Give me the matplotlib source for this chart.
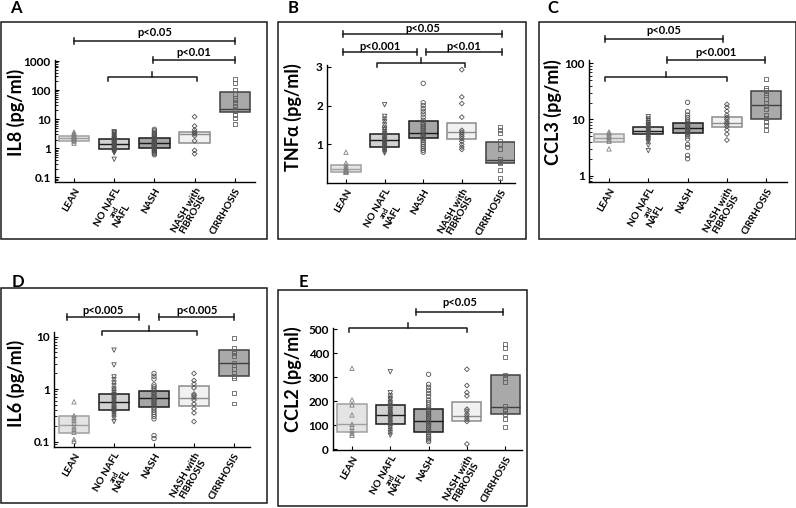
import numpy as np
import matplotlib
matplotlib.use("Agg")
import matplotlib.pyplot as plt
from matplotlib.patches import Rectangle
from matplotlib.transforms import Affine2D, blended_transform_factory
from matplotlib.ticker import LogLocator, NullFormatter, FixedLocator, FuncFormatter

plt.rcParams["font.family"] = ["Lato", "DejaVu Sans"]
plt.rcParams["font.weight"] = "bold"

W, H = 796, 508

# ── Data ────────────────────────────────────────────────────────────────────
GROUPS = ["LEAN", "NO NAFL\n\nNAFL", "NASH", "NASH with\nFIBROSIS", "CIRRHOSIS"]

# each box: (q1, median, q3)
il8_boxes = [(1.8, 2.3, 2.7), (0.92, 1.44, 2.04), (1.0, 1.5, 2.2), (1.49, 3.1, 3.72), (17.3, 23, 84)]
il8_points = [
    [3.6, 3.2, 2.9, 2.7, 2.5, 2.4, 2.3, 2.2, 2.0, 1.9, 1.7, 1.5],
    [3.7, 3.5, 3.3, 3.0, 2.8, 2.6, 2.4, 2.2, 2.1, 2.0, 1.9, 1.8, 1.7, 1.6, 1.5, 1.45, 1.4, 1.3,
     1.25, 1.2, 1.1, 1.05, 1.0, 0.95, 0.9, 0.85, 0.8, 0.75, 0.7, 0.42],
    [4.5, 4.0, 3.6, 3.3, 3.0, 2.8, 2.6, 2.4, 2.2, 2.1, 2.0, 1.9, 1.8, 1.7, 1.6, 1.55, 1.5, 1.45,
     1.4, 1.35, 1.3, 1.25, 1.2, 1.15, 1.1, 1.05, 1.0, 0.95, 0.9, 0.85, 0.8, 0.75, 0.7, 0.65, 0.6],
    [12.2, 5.8, 4.3, 3.6, 3.2, 2.7, 1.8, 0.85, 0.65],
    [240, 170, 100, 75, 55, 45, 35, 28, 23, 21, 19, 14, 11, 7],
]

tnf_boxes = [(0.30, 0.37, 0.47), (0.94, 1.11, 1.26), (1.16, 1.30, 1.61), (1.14, 1.31, 1.54), (0.51, 0.60, 1.07)]
tnf_points = [
    [0.80, 0.52, 0.45, 0.40, 0.37, 0.35, 0.33, 0.31, 0.29, 0.28],
    [2.02, 1.72, 1.65, 1.58, 1.50, 1.42, 1.38, 1.33, 1.28, 1.24, 1.20, 1.16, 1.12, 1.09, 1.05,
     1.02, 0.99, 0.96, 0.93, 0.90, 0.86, 0.82, 0.78],
    [2.57, 2.07, 2.0, 1.92, 1.85, 1.78, 1.70, 1.62, 1.55, 1.50, 1.45, 1.40, 1.35, 1.30, 1.26,
     1.22, 1.18, 1.14, 1.10, 1.05, 1.0, 0.95, 0.90, 0.85, 0.80],
    [2.92, 2.22, 2.05, 1.70, 1.36, 1.31, 1.26, 1.21, 1.15, 1.08, 1.0, 0.93, 0.87],
    [1.44, 1.38, 1.30, 1.10, 1.00, 0.88, 0.62, 0.58, 0.55, 0.52, 0.35, 0.13],
]

ccl3_boxes = [(3.93, 4.63, 5.45), (5.45, 6.3, 7.45), (5.8, 7.0, 8.6), (7.45, 8.8, 11.2), (10.1, 18.1, 32.2)]
ccl3_points = [
    [6.0, 5.6, 5.2, 4.8, 4.4, 4.1, 3.0],
    [11.2, 10.2, 9.5, 8.8, 8.2, 7.8, 7.4, 7.0, 6.7, 6.4, 6.1, 5.8, 5.5, 5.2, 4.9, 4.6, 4.3, 4.0, 3.5, 2.8],
    [20.2, 13.8, 12.0, 10.8, 9.8, 9.0, 8.5, 8.0, 7.6, 7.2, 6.9, 6.6, 6.3, 6.0, 5.7, 5.4, 5.0,
     4.5, 3.6, 3.2, 2.3, 2.0],
    [18.6, 16.5, 14.0, 12.0, 10.8, 10.0, 9.0, 8.3, 7.5, 6.5, 5.5, 4.3],
    [52, 36, 33, 30, 27, 23, 20, 17.5, 15.5, 12, 10.5, 9, 8, 6.5],
]

il6_boxes = [(0.143, 0.205, 0.30), (0.39, 0.56, 0.79), (0.46, 0.67, 0.92), (0.48, 0.68, 1.14), (1.8, 3.1, 5.6)]
il6_points = [
    [0.57, 0.31, 0.28, 0.25, 0.22, 0.19, 0.17, 0.15, 0.11, 0.10],
    [5.5, 2.87, 1.7, 1.5, 1.3, 1.15, 1.0, 0.92, 0.85, 0.78, 0.72, 0.68, 0.64, 0.60, 0.56, 0.52,
     0.48, 0.45, 0.43, 0.41, 0.39, 0.37, 0.34, 0.31, 0.28, 0.24],
    [1.98, 1.75, 1.55, 1.2, 1.1, 1.0, 0.92, 0.85, 0.78, 0.72, 0.68, 0.64, 0.60, 0.56, 0.52, 0.48,
     0.44, 0.40, 0.36, 0.33, 0.30, 0.27, 0.13, 0.114],
    [1.98, 1.45, 1.25, 1.05, 0.80, 0.75, 0.70, 0.62, 0.52, 0.42, 0.35, 0.24],
    [9.4, 6.0, 5.4, 4.8, 4.2, 3.2, 2.8, 2.4, 2.0, 1.8, 1.6, 0.83, 0.53],
]

ccl2_boxes = [(71, 104, 188), (104, 142, 182), (73, 117, 166), (118, 139, 195), (146, 174, 308)]
ccl2_points = [
    [337, 205, 184, 142, 103, 90, 75, 65, 57],
    [323, 235, 222, 212, 205, 195, 188, 180, 172, 165, 158, 150, 145, 140, 135, 128, 120, 112,
     105, 95, 88, 78, 68, 58],
    [312, 270, 258, 245, 232, 220, 205, 195, 185, 175, 165, 158, 150, 142, 135, 128, 120, 112,
     105, 98, 90, 82, 75, 68, 60, 52, 45, 38, 31],
    [333, 265, 236, 222, 166, 158, 145, 135, 125, 115, 21],
    [438, 421, 383, 309, 295, 281, 179, 168, 160, 148, 125, 93],
]

# ── Styling per group ───────────────────────────────────────────────────────
MARKERS = ["^", "v", "o", "D", "s"]
MSIZE = [10, 10, 10, 6, 8]
BOX_FACE = ["#e4e4e4", "#d2d2d2", "#a6a6a6", "#f1f1f1", "#a9a9a9"]
BOX_EDGE = ["#a0a0a0", "#1a1a1a", "#1a1a1a", "#8c8c8c", "#404040"]
PT_EDGE = ["#808080", "#505050", "#505050", "#505050", "#606060"]
BOX_W = 0.76

# ── Layout (figure pixels, measured from top-left) ──────────────────────────
PANELS = [
    dict(letter="A", letter_xy=(16, 8), frame=(0.5, 22, 267, 239),
         rect=(55, 60, 255, 182), c0=74, sp=40.2,
         log=True, yref=(1, 148.3, 29.1), yticks=[0.1, 1, 10, 100, 1000],
         ylabel="IL8 (pg/ml)", ylabel_xy=(16, 112),
         bars=[(0, 4, 41, 32, "p<0.05"), (1.97, 4, 60, 52, "p<0.01")],
         curly=(0.85, 3.06, 1.94, 77)),
    dict(letter="B", letter_xy=(293, 8), frame=(278, 22, 526, 239),
         rect=(327, 65, 515, 183), c0=346, sp=38.6,
         log=False, yref=(0, 183.3, 38.9), yticks=[0, 1, 2, 3],
         ylabel="TNF\u03b1 (pg/ml)", ylabel_xy=(293, 117),
         bars=[(-0.08, 4.04, 34, 28, "p<0.05"), (-0.08, 1.84, 52, 46, "p<0.001"),
               (2.07, 4.04, 52, 46, "p<0.01")],
         curly=(0.8, 3.08, 1.94, 63)),
    dict(letter="C", letter_xy=(553, 8), frame=(539, 22, 795.5, 239),
         rect=(589, 60, 787, 182), c0=609, sp=39.3,
         log=True, yref=(1, 175.7, 56.2), yticks=[1, 10, 100],
         ylabel="CCL3 (pg/ml)", ylabel_xy=(553, 112),
         bars=[(-0.1, 2.9, 39, 30, "p<0.05"), (1.48, 3.97, 60, 52, "p<0.001")],
         curly=(-0.1, 3.0, 1.45, 77)),
    dict(letter="D", letter_xy=(18, 282), frame=(0.5, 288, 267, 503),
         rect=(54, 332, 250, 447), c0=74, sp=40,
         log=True, yref=(1, 389, 52.5), yticks=[0.1, 1, 10],
         ylabel="IL6 (pg/ml)", ylabel_xy=(16, 383),
         bars=[(-0.18, 1.63, 317, 310, "p<0.005"), (2.13, 4.0, 317, 310, "p<0.005")],
         curly=(0.7, 3.08, 1.88, 331)),
    dict(letter="E", letter_xy=(303, 282), frame=(278, 290, 527, 506),
         rect=(333, 328, 522, 450), c0=352, sp=38.3,
         log=False, yref=(0, 449, 0.2394), yticks=[0, 100, 200, 300, 400, 500],
         ylabel="CCL2 (pg/ml)", ylabel_xy=(293, 379),
         bars=[(1.67, 3.94, 312, 303, "p<0.05")],
         curly=(-0.08, 3.0, 1.46, 328)),
]
DATA = [(il8_boxes, il8_points), (tnf_boxes, tnf_points), (ccl3_boxes, ccl3_points),
        (il6_boxes, il6_points), (ccl2_boxes, ccl2_points)]


def px_rect(l, t, r, b):
    return [l / W, 1 - b / H, (r - l) / W, (b - t) / H]


def draw_panel(fig, spec, boxes, points, pxT):
    l, t, r, b = spec["rect"]
    ax = fig.add_axes(px_rect(l, t, r, b))
    ax.patch.set_alpha(0)
    c0, sp = spec["c0"], spec["sp"]
    ax.set_xlim((l - c0) / sp, (r - c0) / sp)
    v0, y0, k = spec["yref"]
    if spec["log"]:
        ax.set_yscale("log")
        ax.set_ylim(v0 * 10 ** ((y0 - b) / k), v0 * 10 ** ((y0 - t) / k))
        ax.yaxis.set_minor_locator(LogLocator(base=10, subs=np.arange(2, 10)))
        ax.yaxis.set_minor_formatter(NullFormatter())
    else:
        ax.set_ylim((y0 - b) / k, (y0 - t) / k)
    ax.yaxis.set_major_locator(FixedLocator(spec["yticks"]))
    ax.yaxis.set_major_formatter(FuncFormatter(lambda v, _: f"{v:g}"))

    for i, ((q1, med, q3), pts) in enumerate(zip(boxes, points)):
        ax.add_patch(Rectangle((i - BOX_W / 2, q1), BOX_W, q3 - q1,
                               facecolor=BOX_FACE[i], edgecolor=BOX_EDGE[i],
                               lw=1.1, zorder=2))
        ax.hlines(med, i - BOX_W / 2, i + BOX_W / 2, color=BOX_EDGE[i], lw=1.0, zorder=2.5)
        ax.scatter(np.full(len(pts), i), pts, marker=MARKERS[i], s=MSIZE[i],
                   facecolors="none", edgecolors=PT_EDGE[i], linewidths=0.6, zorder=3)

    for s in ("top", "right"):
        ax.spines[s].set_visible(False)
    for s in ("left", "bottom"):
        ax.spines[s].set_linewidth(1.0)
    ax.set_xticks(range(len(GROUPS)))
    ax.set_xticklabels(GROUPS, rotation=60, ha="right", va="top", rotation_mode="anchor",
                       multialignment="center", fontsize=7.2, fontweight="bold",
                       linespacing=0.9)
    ax.tick_params(axis="x", direction="in", length=3, width=0.8, pad=3)
    ax.tick_params(axis="y", which="major", direction="in", length=3, width=0.8,
                   labelsize=8.5, pad=3)
    ax.tick_params(axis="y", which="minor", direction="in", length=1.8, width=0.6)
    for lab in ax.get_yticklabels():
        lab.set_fontweight("bold")

    cx, cy = spec["ylabel_xy"]
    ax.set_ylabel(spec["ylabel"], fontsize=13, fontweight="bold")
    ax.yaxis.set_label_coords((cx - l) / (r - l), (b - cy) / (b - t))
    ax.yaxis.label.set_verticalalignment("center")

    # significance bars (x in category units, y in figure pixels)
    tr = blended_transform_factory(ax.transData, pxT)
    for x0, x1, ly, ty, txt in spec["bars"]:
        ax.plot([x0, x1], [ly, ly], color="#1a1a1a", lw=1.1, transform=tr, clip_on=False)
        for xe in (x0, x1):
            ax.plot([xe, xe], [ly - 3, ly + 3], color="#1a1a1a", lw=1.1,
                    transform=tr, clip_on=False)
        ax.text((x0 + x1) / 2, ty, txt, ha="center", va="center", fontsize=8,
                fontweight="bold", transform=tr, clip_on=False)
    x0, x1, xm, cyl = spec["curly"]
    ax.plot([x0, x0, x1, x1], [cyl + 4, cyl, cyl, cyl + 4], color="#1a1a1a", lw=1.1,
            transform=tr, clip_on=False)
    ax.plot([xm, xm], [cyl, cyl - 5], color="#1a1a1a", lw=1.1, transform=tr, clip_on=False)

    # panel frame and letter
    fl, ft, fr, fb = spec["frame"]
    fig.patches.append(Rectangle((fl, ft), fr - fl, fb - ft, transform=pxT,
                                 fill=False, edgecolor="#1a1a1a", lw=1.1))
    lx, ly = spec["letter_xy"]
    fig.text(lx, ly, spec["letter"], transform=pxT, ha="center", va="center",
             fontsize=12, fontweight="bold")
    return ax


fig = plt.figure(figsize=(W / 100, H / 100), dpi=100)
fig.patch.set_facecolor("white")
pxT = Affine2D().scale(1.0 / W, -1.0 / H).translate(0, 1) + fig.transFigure

axes = [draw_panel(fig, spec, bx, pts, pxT) for spec, (bx, pts) in zip(PANELS, DATA)]

# small "and" between NO NAFL / NAFL lines
fig.canvas.draw()
for ax in axes:
    lab = ax.get_xticklabels()[1]
    bb = lab.get_window_extent()
    cx, cy = fig.transFigure.inverted().transform(((bb.x0 + bb.x1) / 2, (bb.y0 + bb.y1) / 2))
    fig.text(cx, cy, "and", rotation=60, rotation_mode="anchor", ha="center", va="center",
             fontsize=5, fontweight="bold")

fig.savefig("out.png", dpi=100)
